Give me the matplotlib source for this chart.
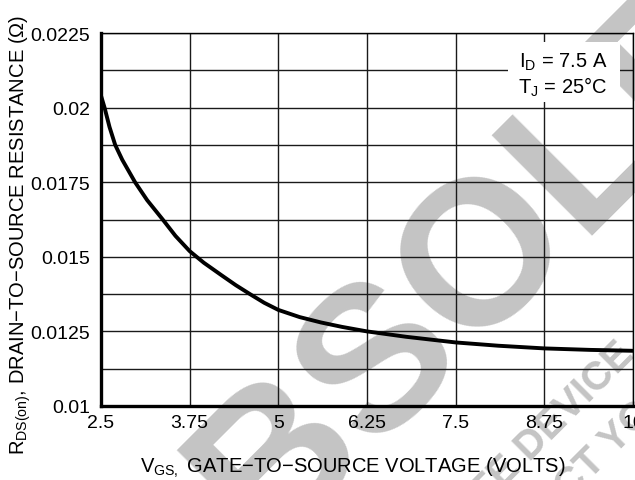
import matplotlib
matplotlib.use("Agg")
import matplotlib.pyplot as plt
from matplotlib.patches import Rectangle

# values
vgs = [2.5, 2.55, 2.62, 2.7, 2.8, 2.98, 3.15, 3.37, 3.55, 3.75, 3.95, 4.2,
       4.4, 4.6, 4.8, 5.0, 5.3, 5.6, 5.9, 6.25, 6.8, 7.5, 8.1, 8.75, 9.4, 10.0]
rds = [0.0204, 0.0200, 0.01935, 0.01875, 0.01825, 0.0175, 0.0169, 0.01625,
       0.0157, 0.01519, 0.0148, 0.01438, 0.01405, 0.01375, 0.01346, 0.01322,
       0.01298, 0.0128, 0.01265, 0.0125, 0.01232, 0.01213, 0.01202, 0.01193,
       0.01188, 0.01185]

x_ticks = [2.5, 3.75, 5, 6.25, 7.5, 8.75, 10]
x_labels = ["2.5", "3.75", "5", "6.25", "7.5", "8.75", "10"]
y_ticks = [0.01, 0.0125, 0.015, 0.0175, 0.02, 0.0225]
y_labels = ["0.01", "0.0125", "0.015", "0.0175", "0.02", "0.0225"]
y_grid = [0.01 + 0.00125 * i for i in range(11)]

plt.rcParams["font.family"] = ["Liberation Sans", "DejaVu Sans"]
plt.rcParams["mathtext.default"] = "regular"

W, H = 635, 481
fig = plt.figure(figsize=(W / 100, H / 100), dpi=100)
ax = fig.add_axes([101 / W, 1 - 407 / H, 532 / W, 373 / H])
ax.set_facecolor("none")

# watermark behind everything
grey = "#c4c4c4"
fig.text(515 / W, 1 - 230 / H, "OBSOLETE", rotation=45, rotation_mode="anchor",
         ha="center", va="center", fontsize=148, fontweight="bold",
         color=grey, zorder=-2)
fig.text(500 / W, 1 - 492 / H, "OBSOLETE DEVICE", rotation=45, rotation_mode="anchor",
         ha="center", va="baseline", fontsize=29, fontweight="bold",
         color=grey, zorder=-2)
fig.text(470 / W, 1 - 600 / H, "CONTACT YOUR ON SEMICONDUCTOR REPRESENTATIVE",
         rotation=45, rotation_mode="anchor", ha="left", va="baseline",
         fontsize=29, fontweight="bold", color=grey, zorder=-2)

ax.plot(vgs, rds, color="black", lw=2.8, zorder=5)

ax.set_xlim(2.5, 10)
ax.set_ylim(0.01, 0.0225)
ax.set_xticks(x_ticks)
ax.set_xticklabels(x_labels)
ax.set_yticks(y_ticks)
ax.set_yticklabels(y_labels)
ax.set_yticks(y_grid, minor=True)
ax.tick_params(which="both", length=0, labelsize=14, colors="black")
ax.tick_params(axis="x", pad=6)
ax.tick_params(axis="y", pad=8)
ax.grid(True, which="both", color="#1a1a1a", lw=1.0, zorder=1)
ax.set_axisbelow(True)

for side in ["left", "bottom"]:
    ax.spines[side].set_linewidth(2.4)
for side in ["top", "right"]:
    ax.spines[side].set_linewidth(1.0)

# condition box
ax.add_patch(Rectangle((0.765, 0.815), 0.211, 0.16, transform=ax.transAxes,
                       facecolor="white", edgecolor="none", zorder=3))
ax.text(0.868, 0.925, "I$_D$ = 7.5 A", transform=ax.transAxes, ha="center",
        va="center", fontsize=14.5, zorder=4)
ax.text(0.868, 0.857, "T$_J$ = 25°C", transform=ax.transAxes, ha="center",
        va="center", fontsize=14.5, zorder=4)

fig.text(353 / W, 1 - 473 / H, "V$_{GS,}$ GATE−TO−SOURCE VOLTAGE (VOLTS)",
         ha="center", va="baseline", fontsize=14.5)
fig.text(25 / W, 1 - 235 / H, "R$_{DS(on)}$, DRAIN−TO−SOURCE RESISTANCE (Ω)",
         rotation=90, rotation_mode="anchor", ha="center", va="baseline",
         fontsize=14.5)

fig.savefig("out.png", dpi=100)
